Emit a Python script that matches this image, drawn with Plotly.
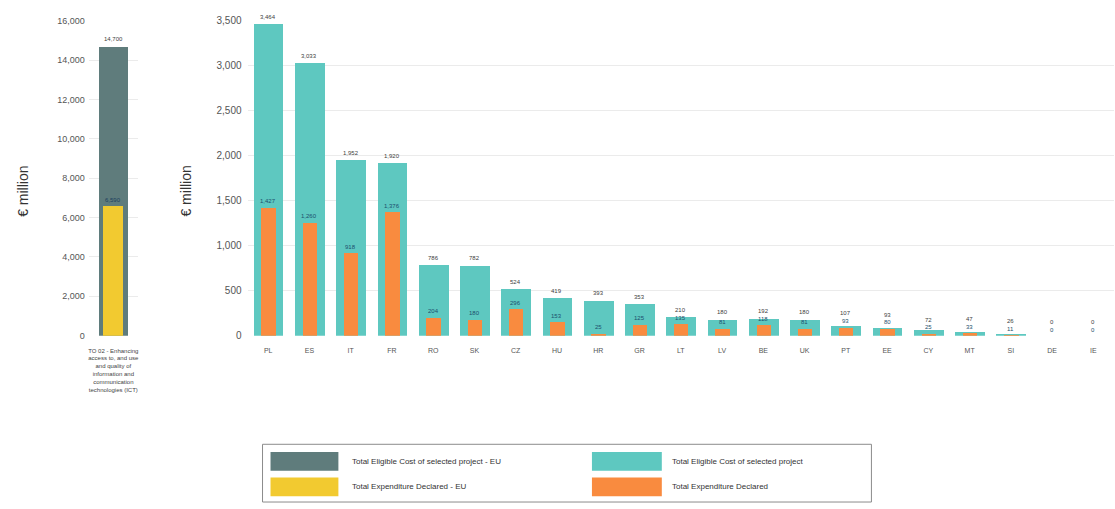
import plotly.graph_objects as go

W, H = 1115, 509

# ---- data ----
left_category = ["TO 02 - Enhancing<br>access to, and use<br>and quality of<br>information and<br>communication<br>technologies (ICT)"]
left_total_eu = [14700]
left_declared_eu = [6590]

countries = ["PL", "ES", "IT", "FR", "RO", "SK", "CZ", "HU", "HR", "GR", "LT",
             "LV", "BE", "UK", "PT", "EE", "CY", "MT", "SI", "DE", "IE"]
total_cost = [3464, 3033, 1952, 1920, 786, 782, 524, 419, 393, 353, 210,
              180, 192, 180, 107, 93, 72, 47, 26, 0, 0]
declared = [1427, 1260, 918, 1376, 204, 180, 296, 153, 25, 125, 135,
            81, 118, 81, 93, 80, 25, 33, 11, 0, 0]

legend_labels = ["Total Eligible Cost of selected project - EU",
                 "Total Expenditure Declared - EU",
                 "Total Eligible Cost of selected project",
                 "Total Expenditure Declared"]

C_GREY = "#5f7c7c"
C_YELLOW = "#f2ca30"
C_TEAL = "#5ec8c0"
C_ORANGE = "#f98b3f"
FONT = "Liberation Sans"

def px(x):
    return x / W

def py(y):
    return 1 - y / H

ydom = [py(338), py(16)]

fig = go.Figure()

fig.add_trace(go.Bar(x=[0], y=left_total_eu, width=0.61, marker_color=C_GREY,
                     marker_line_width=0, xaxis="x", yaxis="y", showlegend=False))
fig.add_trace(go.Bar(x=[0], y=left_declared_eu, width=0.41, marker_color=C_YELLOW,
                     marker_line_width=0, xaxis="x", yaxis="y", showlegend=False))

fig.add_trace(go.Bar(x=countries, y=total_cost, width=0.72, marker_color=C_TEAL,
                     marker_line_width=0, xaxis="x2", yaxis="y2", showlegend=False))
fig.add_trace(go.Bar(x=countries, y=declared, width=0.35, marker_color=C_ORANGE,
                     marker_line_width=0, xaxis="x2", yaxis="y2", showlegend=False))

annotations = []
# left labels
annotations.append(dict(x=0, y=left_total_eu[0], xref="x", yref="y", text=f"{left_total_eu[0]:,}",
                        showarrow=False, yanchor="bottom", yshift=2,
                        font=dict(family=FONT, size=6, color="#404040")))
annotations.append(dict(x=0, y=left_declared_eu[0], xref="x", yref="y", text=f"{left_declared_eu[0]:,}",
                        showarrow=False, yanchor="bottom", yshift=1,
                        font=dict(family=FONT, size=6, color="#1d3f5e")))

pxu = (338 - 16) / 3500.0
for c, t, d in zip(countries, total_cost, declared):
    gap = (t - d) * pxu
    shift = max(2, 9 - gap)
    annotations.append(dict(x=c, y=t, xref="x2", yref="y2", text=f"{t:,}", showarrow=False,
                            yanchor="bottom", yshift=shift,
                            font=dict(family=FONT, size=6, color="#404040")))
    annotations.append(dict(x=c, y=d, xref="x2", yref="y2", text=f"{d:,}", showarrow=False,
                            yanchor="bottom", yshift=1,
                            font=dict(family=FONT, size=6, color="#1d4f6e")))

# axis titles
annotations.append(dict(x=px(22), y=py(190), xref="paper", yref="paper", text="€ million",
                        textangle=-90, showarrow=False, xanchor="center", yanchor="middle",
                        font=dict(family=FONT, size=14, color="#333333")))
annotations.append(dict(x=px(185), y=py(190), xref="paper", yref="paper", text="€ million",
                        textangle=-90, showarrow=False, xanchor="center", yanchor="middle",
                        font=dict(family=FONT, size=14, color="#333333")))

# legend (manual, large swatches)
shapes = [dict(type="rect", xref="paper", yref="paper", x0=px(262), x1=px(872), y0=py(508), y1=py(449),
               line=dict(color="#8c8c8c", width=1), fillcolor="rgba(0,0,0,0)")]
legend_items = [(270, 338, 457, 476, C_GREY, 350, legend_labels[0]),
                (270, 338, 483, 502, C_YELLOW, 350, legend_labels[1]),
                (592, 662, 457, 476, C_TEAL, 670, legend_labels[2]),
                (592, 662, 483, 502, C_ORANGE, 670, legend_labels[3])]
for x0, x1, y0, y1, col, tx, lab in legend_items:
    shapes.append(dict(type="rect", xref="paper", yref="paper", x0=px(x0), x1=px(x1),
                       y0=py(y1), y1=py(y0), fillcolor=col, line=dict(width=0)))
    annotations.append(dict(x=px(tx), y=py((y0 + y1) / 2), xref="paper", yref="paper", text=lab,
                            showarrow=False, xanchor="left", yanchor="middle",
                            font=dict(family=FONT, size=8, color="#333333")))

fig.update_layout(
    width=W, height=H,
    margin=dict(l=0, r=0, t=0, b=0),
    paper_bgcolor="white", plot_bgcolor="white",
    barmode="overlay", bargap=0,
    font=dict(family=FONT, color="#555555"),
    xaxis=dict(domain=[px(88), px(137)], range=[-0.5, 0.5], tickvals=[0], ticktext=left_category,
               tickfont=dict(size=6, color="#444444"), showgrid=False, zeroline=False, showline=False,
               ticks="", ticklabelstandoff=10),
    yaxis=dict(domain=ydom, range=[0, 16000], dtick=2000, tickformat=",", gridcolor="#ebebeb",
               zeroline=False, showline=False, tickfont=dict(size=9, color="#555555"), ticks="",
               ticklabelstandoff=3),
    xaxis2=dict(domain=[px(247), 1.0], anchor="y2", showgrid=False, zeroline=False, showline=False,
                tickfont=dict(size=7, color="#555555"), ticks="", ticklabelstandoff=9),
    yaxis2=dict(domain=ydom, anchor="x2", range=[0, 3500], dtick=500, tickformat=",",
                gridcolor="#ebebeb", zeroline=False, showline=False,
                tickfont=dict(size=10, color="#555555"), ticks="", ticklabelstandoff=5),
    annotations=annotations,
    shapes=shapes,
)

fig.write_html("out.html")
